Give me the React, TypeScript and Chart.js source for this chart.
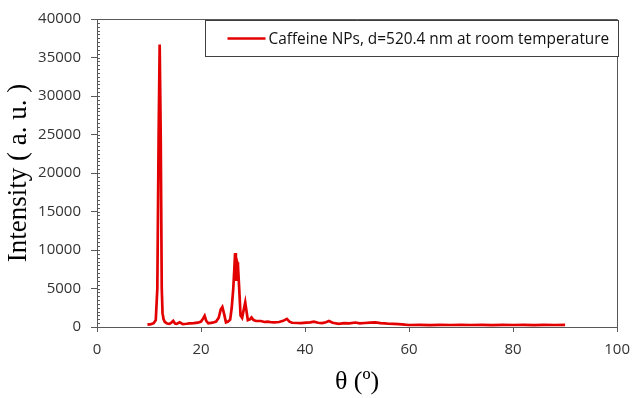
import React, { useEffect, useRef } from "react";
import { Chart, registerables } from "chart.js";

Chart.register(...registerables);

const seriesLabel = "Caffeine NPs, d=520.4 nm at room temperature";
const xTitle = "θ (º)";
const yTitle = "Intensity ( a. u. )";

const xTicks = [0, 20, 40, 60, 80, 100];
const yTicks = [0, 5000, 10000, 15000, 20000, 25000, 30000, 35000, 40000];

const theta = [
  9.7, 10.4, 10.9, 11.3, 11.6, 11.85, 12.05, 12.25, 12.45, 12.6, 12.8, 13.05,
  13.5, 13.9, 14.3, 14.65, 15.0, 15.3, 15.9, 16.5, 17.2, 17.8, 18.6, 19.4,
  20.0, 20.4, 20.7, 21.0, 21.4, 22.2, 22.9, 23.4, 23.8, 24.1, 24.4, 24.8,
  25.2, 25.6, 25.9, 26.2, 26.4, 26.55, 26.7, 26.8, 26.95, 27.1, 27.3, 27.6,
  27.9, 28.2, 28.5, 28.8, 29.0, 29.4, 29.7, 30.1, 30.6, 31.5, 32.2, 32.8,
  33.5, 34.1, 35.0, 35.8, 36.5, 37.0, 37.5, 38.5, 39.2, 40.2, 41.0, 41.7,
  42.5, 43.3, 44.0, 44.6, 45.3, 46.5, 47.5, 48.5, 49.7, 50.5, 51.5, 52.5,
  53.5, 54.5, 55.3, 56.1, 57.0, 58.0, 59.2, 60.0, 62, 64, 66, 68, 70, 72,
  74, 76, 78, 80, 82, 84, 86, 88, 90,
];

const intensity = [
  300, 380, 500, 900, 5000, 25000, 36700, 25000, 5000, 1800, 1000, 650,
  450, 400, 550, 800, 450, 400, 620, 380, 420, 480, 500, 560,
  700, 1100, 1450, 800, 480, 560, 700, 1200, 2300, 2600, 1800, 600,
  700, 950, 2500, 5000, 7500, 9600, 7000, 6000, 8400, 8000, 5500, 1500,
  1200, 2200, 3200, 1800, 900, 1000, 1250, 900, 780, 780, 650, 700,
  620, 600, 650, 800, 1050, 700, 550, 520, 500, 560, 600, 700,
  550, 500, 620, 780, 550, 420, 500, 480, 580, 480, 520, 560,
  600, 500, 480, 420, 400, 380, 300, 260, 270, 250, 280, 260, 290, 260,
  270, 250, 280, 260, 270, 250, 280, 260, 270,
];

const AXIS = "#595959";
const TICK_TEXT = "#333333";
const RED = "rgb(226,0,0)";

export default function App() {
  const ref = useRef<HTMLCanvasElement | null>(null);

  useEffect(() => {
    const canvas = ref.current;
    if (!canvas) return;

    const framePlugin = {
      id: "frameAndLegend",
      afterDraw(chart: any) {
        const { ctx, chartArea: a, scales } = chart;
        ctx.save();
        ctx.strokeStyle = AXIS;
        ctx.lineWidth = 1;
        ctx.beginPath();
        ctx.moveTo(a.left, Math.round(a.top) + 0.5);
        ctx.lineTo(Math.round(a.right) + 0.5, Math.round(a.top) + 0.5);
        ctx.lineTo(Math.round(a.right) + 0.5, a.bottom);
        ctx.stroke();
        const ys = scales.y;
        ctx.beginPath();
        for (let v = 0; v <= 40000; v += 500) {
          const py = Math.round(ys.getPixelForValue(v)) + 0.5;
          ctx.moveTo(a.left, py);
          ctx.lineTo(a.left + 3, py);
        }
        ctx.stroke();
        const bx = Math.round(a.left + 108) + 0.5;
        const by = Math.round(a.top + 1) + 0.5;
        const bw = Math.round(a.right + 1 - (a.left + 108));
        const bh = 36;
        ctx.fillStyle = "#ffffff";
        ctx.fillRect(bx, by, bw, bh);
        ctx.strokeStyle = "#404040";
        ctx.strokeRect(bx, by, bw, bh);
        const ly = by + bh / 2;
        ctx.strokeStyle = RED;
        ctx.lineWidth = 2.5;
        ctx.beginPath();
        ctx.moveTo(bx + 22, ly);
        ctx.lineTo(bx + 60, ly);
        ctx.stroke();
        ctx.fillStyle = "#111111";
        ctx.font = "15.4px 'Open Sans'";
        ctx.textBaseline = "middle";
        ctx.textAlign = "left";
        ctx.fillText(seriesLabel, bx + 63, ly + 1);
        ctx.restore();
      },
    };

    const chart = new Chart(canvas, {
      type: "line",
      data: {
        datasets: [
          {
            label: seriesLabel,
            data: theta.map((t, i) => ({ x: t, y: intensity[i] })),
            borderColor: RED,
            backgroundColor: RED,
            borderWidth: 2.7,
            pointRadius: 0,
            tension: 0,
            fill: false,
          },
        ],
      },
      options: {
        animation: false,
        responsive: false,
        layout: { padding: { left: 0, right: 19, top: 16, bottom: 0 } },
        plugins: { legend: { display: false }, tooltip: { enabled: false } },
        scales: {
          x: {
            type: "linear",
            min: 0,
            max: 100,
            afterBuildTicks: (s: any) => {
              s.ticks = xTicks.map((v) => ({ value: v }));
            },
            ticks: {
              font: { family: "'Open Sans'", size: 15 },
              color: TICK_TEXT,
              padding: 9,
              maxRotation: 0,
              callback: (v: any) => String(v),
            },
            grid: { drawOnChartArea: false, tickLength: 5, color: AXIS },
            border: { color: AXIS },
            title: {
              display: true,
              text: xTitle,
              font: { family: "'Liberation Serif'", size: 26 },
              color: "#000",
              padding: { top: 0, bottom: 0 },
            },
            afterFit: (s: any) => {
              s.height = 71;
            },
          },
          y: {
            type: "linear",
            min: 0,
            max: 40000,
            afterBuildTicks: (s: any) => {
              s.ticks = yTicks.map((v) => ({ value: v }));
            },
            ticks: {
              font: { family: "'Open Sans'", size: 15 },
              color: TICK_TEXT,
              padding: 10,
              callback: (v: any) => String(v),
            },
            grid: { drawOnChartArea: false, tickLength: 6, color: AXIS },
            border: { color: AXIS },
            title: {
              display: true,
              text: yTitle,
              font: { family: "'Liberation Serif'", size: 27 },
              color: "#000",
              padding: { top: 3, bottom: 0 },
            },
            afterFit: (s: any) => {
              s.width = 97;
            },
          },
        },
      },
      plugins: [framePlugin],
    });

    return () => chart.destroy();
  }, []);

  return (
    <div style={{ position: "fixed", left: 0, top: 0, width: 639, height: 398, background: "#fff" }}>
      <canvas ref={ref} width={639} height={398} style={{ display: "block" }} />
    </div>
  );
}
